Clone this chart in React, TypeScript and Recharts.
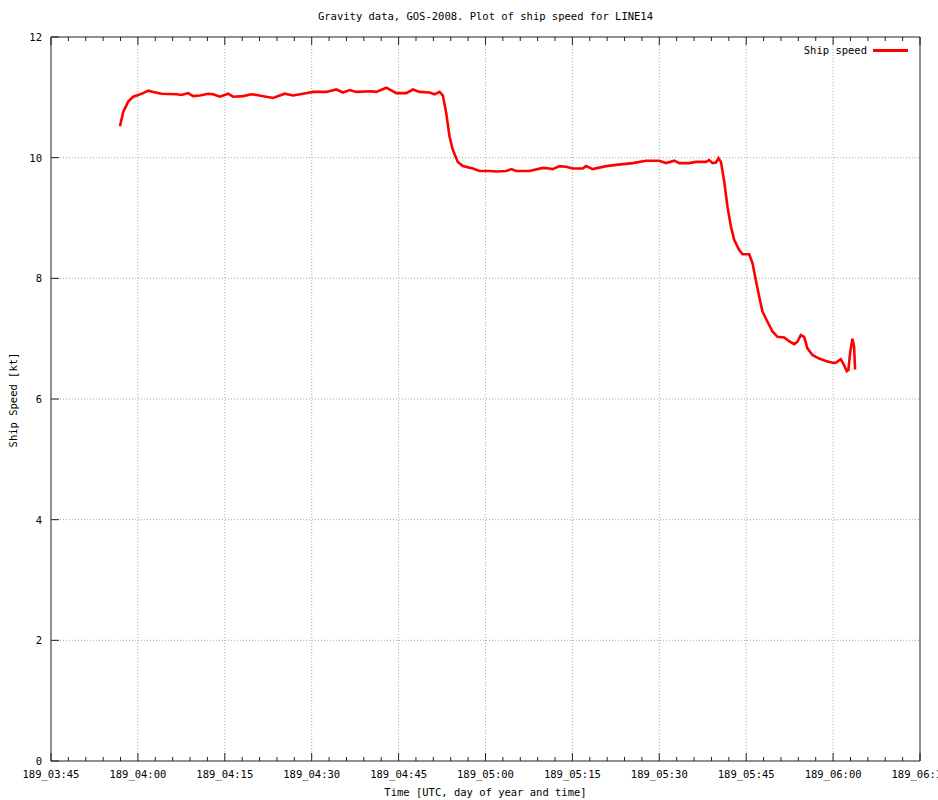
import React from "react";
import { LineChart, Line, XAxis, YAxis, ReferenceLine } from "recharts";

// Time in minutes of day (day 189), ship speed in knots
const timeMinutes: number[] = [
  236.9, 237.47, 238.33, 239.19, 240.05, 240.91, 241.78, 242.64, 244.09, 246.67,
  247.53, 248.67, 249.53, 250.69, 252.12, 252.98, 254.14, 255.57, 256.43, 258.16,
  259.6, 260.47, 263.33, 265.34, 266.78, 268.5, 270.22, 272.53, 274.26, 275.4,
  276.55, 277.71, 280.29, 281.16, 282.88, 284.6, 286.33, 287.47, 288.62, 290.34,
  291.21, 292.07, 292.64, 293.22, 293.79, 294.36, 295.22, 296.09, 297.81, 298.97,
  300.69, 301.84, 303.57, 304.43, 305.29, 307.59, 309.88, 311.03, 311.6, 312.76,
  313.91, 315.05, 316.78, 317.36, 318.5, 320.81, 322.53, 325.4, 327.71, 330.0,
  331.16, 332.59, 333.45, 335.17, 336.33, 338.05, 338.62, 339.19, 339.78, 340.22,
  340.64, 341.21, 341.78, 342.36, 342.93, 343.79, 344.36, 345.52, 346.09, 346.67,
  347.24, 347.81, 348.67, 349.53, 350.4, 351.55, 352.41, 353.28, 353.84, 354.43,
  355.0, 355.57, 356.43, 357.59, 358.74, 359.88, 360.47, 361.33, 361.9, 362.36,
  362.64, 362.93, 363.33, 363.62, 363.79,
];
const shipSpeed: number[] = [
  10.52, 10.76, 10.93, 11.01, 11.04, 11.07, 11.11, 11.09, 11.06, 11.05,
  11.04, 11.07, 11.02, 11.03, 11.06, 11.05, 11.01, 11.06, 11.01, 11.02,
  11.05, 11.04, 10.99, 11.06, 11.03, 11.06, 11.09, 11.09, 11.13, 11.08,
  11.12, 11.09, 11.1, 11.09, 11.16, 11.07, 11.07, 11.13, 11.09, 11.08,
  11.05, 11.09, 11.03, 10.74, 10.35, 10.13, 9.93, 9.86, 9.82, 9.78,
  9.78, 9.77, 9.78, 9.81, 9.78, 9.78, 9.83, 9.82, 9.81, 9.86,
  9.85, 9.82, 9.82, 9.86, 9.81, 9.86, 9.88, 9.91, 9.95, 9.95,
  9.91, 9.95, 9.91, 9.91, 9.93, 9.93, 9.96, 9.91, 9.92, 9.99,
  9.93, 9.6, 9.18, 8.86, 8.64, 8.47, 8.4, 8.4, 8.25, 7.97,
  7.7, 7.45, 7.28, 7.12, 7.03, 7.02, 6.96, 6.91, 6.95, 7.06,
  7.03, 6.84, 6.73, 6.67, 6.63, 6.6, 6.6, 6.66, 6.56, 6.46,
  6.48, 6.76, 7.0, 6.87, 6.49,
];

const xMin = 225; // 03:45
const xMax = 375; // 06:15
const xTicks: number[] = [];
for (let t = xMin; t <= xMax; t += 3) xTicks.push(t);
const xMajor: number[] = [240, 255, 270, 285, 300, 315, 330, 345, 360];
const yTicks: number[] = [0, 2, 4, 6, 8, 10, 12];
const yGrid: number[] = [2, 4, 6, 8, 10];

const data = timeMinutes.map((t, i) => ({ t, speed: shipSpeed[i] }));

const FONT = "'DejaVu Sans Mono', monospace";
const FS = 10.5;
const AXIS = "#202020";
const GRID = "#a8a8a8";

const fmt = (m: number) => {
  const h = Math.floor(m / 60);
  const mm = Math.round(m % 60);
  return `189_${String(h).padStart(2, "0")}:${String(mm).padStart(2, "0")}`;
};

const BottomTick = (props: any) => {
  const { x, y, payload } = props;
  const major = payload.value % 15 === 0;
  return (
    <g>
      <line x1={x} y1={y} x2={x} y2={y - (major ? 8 : 4)} stroke={AXIS} strokeWidth={1} />
      {major && (
        <text x={x} y={y + 17} textAnchor="middle" fontFamily={FONT} fontSize={FS} fill="#000">
          {fmt(payload.value)}
        </text>
      )}
    </g>
  );
};

const TopTick = (props: any) => {
  const { x, y, payload } = props;
  const major = payload.value % 15 === 0;
  return <line x1={x} y1={y} x2={x} y2={y + (major ? 8 : 4)} stroke={AXIS} strokeWidth={1} />;
};

const LeftTick = (props: any) => {
  const { x, y, payload } = props;
  return (
    <g>
      <line x1={x} y1={y} x2={x + 8} y2={y} stroke={AXIS} strokeWidth={1} />
      <text x={x - 9} y={y + 4} textAnchor="end" fontFamily={FONT} fontSize={FS} fill="#000">
        {payload.value}
      </text>
    </g>
  );
};

const RightTick = (props: any) => {
  const { x, y } = props;
  return <line x1={x} y1={y} x2={x - 8} y2={y} stroke={AXIS} strokeWidth={1} />;
};

export default function App() {
  return (
    <div style={{ position: "absolute", left: 0, top: 0, width: 938, height: 800, background: "#fff" }}>
      <LineChart
        width={938}
        height={800}
        data={data}
        margin={{ top: 0, right: 0, bottom: 0, left: 0 }}
      >
        <XAxis
          xAxisId="b"
          dataKey="t"
          type="number"
          domain={[xMin, xMax]}
          ticks={xTicks}
          interval={0}
          orientation="bottom"
          height={39}
          tickSize={0}
          tickMargin={0}
          tickLine={false}
          axisLine={{ stroke: AXIS, strokeWidth: 1 }}
          tick={<BottomTick />}
          allowDataOverflow
        />
        <XAxis
          xAxisId="t"
          dataKey="t"
          type="number"
          domain={[xMin, xMax]}
          ticks={xTicks}
          interval={0}
          orientation="top"
          height={37}
          tickSize={0}
          tickMargin={0}
          tickLine={false}
          axisLine={{ stroke: AXIS, strokeWidth: 1 }}
          tick={<TopTick />}
          allowDataOverflow
        />
        <YAxis
          yAxisId="l"
          type="number"
          domain={[0, 12]}
          ticks={yTicks}
          interval={0}
          orientation="left"
          width={51}
          tickSize={0}
          tickMargin={0}
          tickLine={false}
          axisLine={{ stroke: AXIS, strokeWidth: 1 }}
          tick={<LeftTick />}
        />
        <YAxis
          yAxisId="r"
          type="number"
          domain={[0, 12]}
          ticks={yTicks}
          interval={0}
          orientation="right"
          width={18}
          tickSize={0}
          tickMargin={0}
          tickLine={false}
          axisLine={{ stroke: AXIS, strokeWidth: 1 }}
          tick={<RightTick />}
        />
        {xMajor.map((v) => (
          <ReferenceLine
            key={"vx" + v}
            x={v}
            xAxisId="b"
            yAxisId="l"
            stroke={GRID}
            strokeDasharray="1 2"
            strokeWidth={1}
          />
        ))}
        {yGrid.map((v) => (
          <ReferenceLine
            key={"hy" + v}
            y={v}
            xAxisId="b"
            yAxisId="l"
            stroke={GRID}
            strokeDasharray="1 2"
            strokeWidth={1}
          />
        ))}
        <Line
          xAxisId="b"
          yAxisId="l"
          type="linear"
          dataKey="speed"
          stroke="#ff0000"
          strokeWidth={2.6}
          dot={false}
          activeDot={false}
          isAnimationActive={false}
        />
      </LineChart>
      <div
        style={{
          position: "absolute",
          left: 0,
          width: 971,
          top: 9,
          textAlign: "center",
          fontFamily: FONT,
          fontSize: FS,
          lineHeight: "14px",
          whiteSpace: "nowrap",
        }}
      >
        Gravity data, GOS-2008. Plot of ship speed for LINE14
      </div>
      <div
        style={{
          position: "absolute",
          left: 0,
          width: 971,
          top: 785,
          textAlign: "center",
          fontFamily: FONT,
          fontSize: FS,
          lineHeight: "14px",
          whiteSpace: "nowrap",
        }}
      >
        Time [UTC, day of year and time]
      </div>
      <div
        style={{
          position: "absolute",
          left: 13,
          top: 400,
          transform: "translate(-50%, -50%) rotate(-90deg)",
          fontFamily: FONT,
          fontSize: FS,
          lineHeight: "14px",
          whiteSpace: "nowrap",
        }}
      >
        Ship Speed [kt]
      </div>
      <div
        style={{
          position: "absolute",
          right: 71,
          top: 43,
          fontFamily: FONT,
          fontSize: FS,
          lineHeight: "14px",
          whiteSpace: "nowrap",
        }}
      >
        Ship speed
      </div>
      <div
        style={{
          position: "absolute",
          left: 873,
          top: 49,
          width: 35,
          height: 3,
          background: "#ff0000",
        }}
      />
    </div>
  );
}
